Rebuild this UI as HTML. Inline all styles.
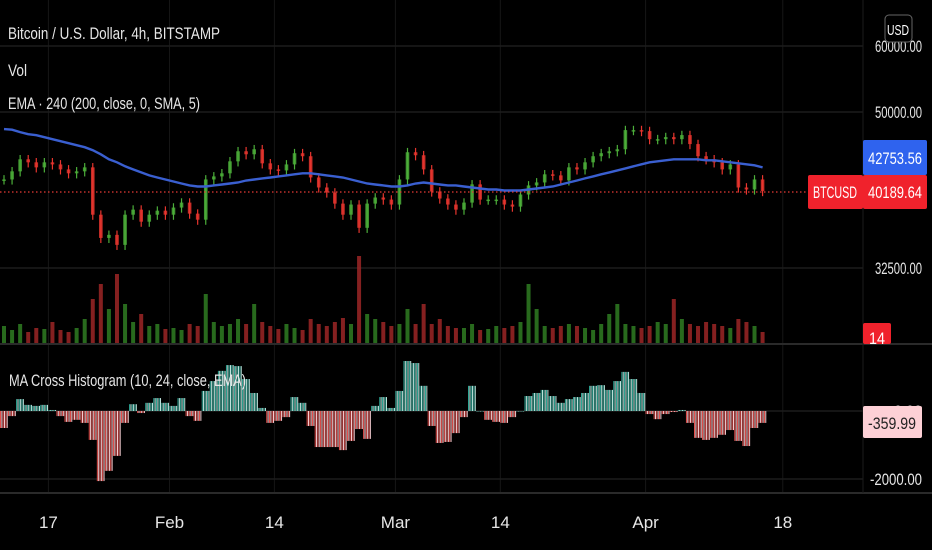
<!DOCTYPE html>
<html><head><meta charset="utf-8"><style>
html,body{margin:0;padding:0;background:#000;}
svg{display:block;font-family:"Liberation Sans",sans-serif;}
</style></head><body>
<svg id="chart" width="932" height="550" viewBox="0 0 932 550" xmlns="http://www.w3.org/2000/svg">
<rect x="0" y="0" width="932" height="550" fill="#000"/>
<g id="grid"></g>
<g id="volume"></g>
<g id="candles"></g>
<path id="ema" fill="none" stroke="#3a5fd0" stroke-width="2.4"/>
<line x1="0" y1="192" x2="808" y2="192" stroke="#e53935" stroke-width="1.3" stroke-dasharray="1.5,2.5"/>
<g id="hist"></g>
<line x1="0" y1="344" x2="932" y2="344" stroke="#2a2a2a" stroke-width="2"/>
<line x1="0" y1="493" x2="932" y2="493" stroke="#2a2a2a" stroke-width="2"/>
<line x1="863" y1="0" x2="863" y2="493" stroke="#1c1c1c" stroke-width="1"/>
<g id="axis" fill="#e6e6e6" font-size="17"></g>
<g fill="#e6e6e6" font-size="17">
<text x="8" y="39" textLength="212" lengthAdjust="spacingAndGlyphs">Bitcoin / U.S. Dollar, 4h, BITSTAMP</text>
<text x="8" y="76" textLength="19" lengthAdjust="spacingAndGlyphs">Vol</text>
<text x="8" y="109" textLength="192" lengthAdjust="spacingAndGlyphs">EMA · 240 (200, close, 0, SMA, 5)</text>
<text x="9" y="386" textLength="237" lengthAdjust="spacingAndGlyphs">MA Cross Histogram (10, 24, close, EMA)</text>
</g>
<g font-size="17">
<rect x="863" y="140" width="64" height="35" rx="2" fill="#2f63ee"/>
<text x="895" y="164" fill="#fff" text-anchor="middle" textLength="54" lengthAdjust="spacingAndGlyphs">42753.56</text>
<rect x="808" y="175" width="55" height="34" rx="2" fill="#f0222c"/>
<text x="835" y="198" fill="#fff" text-anchor="middle" textLength="44" lengthAdjust="spacingAndGlyphs">BTCUSD</text>
<rect x="863" y="175" width="64" height="34" rx="2" fill="#f0222c"/>
<text x="895" y="198" fill="#fff" text-anchor="middle" textLength="54" lengthAdjust="spacingAndGlyphs">40189.64</text>
<rect x="863" y="323" width="28" height="21" rx="2" fill="#f0222c"/>
<text x="877" y="344" fill="#fff" text-anchor="middle" textLength="16" lengthAdjust="spacingAndGlyphs">14</text>
<rect x="863" y="406" width="59" height="32" rx="2" fill="#fdd0d6"/>
<text x="892" y="429" fill="#222" text-anchor="middle" textLength="48" lengthAdjust="spacingAndGlyphs">-359.99</text>
<rect x="885" y="15" width="27" height="27" rx="4" fill="#000" stroke="#666" stroke-width="1"/>
<text x="898" y="35" fill="#fff" text-anchor="middle" font-size="15" textLength="22" lengthAdjust="spacingAndGlyphs">USD</text>
</g>
</svg>
<script>
const closes = [41500,42440,43875,43510,42910,43510,43260,42670,42210,42440,
42910,37650,35310,35610,34640,37650,38180,36930,37650,38070,
37650,38400,38930,37760,37135,41500,41850,42210,43630,44860,
44490,45110,43390,42670,42550,43260,44620,44250,41730,40590,
40030,38820,37650,38720,36310,38820,39480,39255,38720,41500,
44740,44370,42670,40140,39370,38720,38180,38930,40940,39255,
39255,39255,38720,38500,39810,40820,41160,42090,41970,41390,
42910,42670,43510,44250,44620,44860,45110,47560,47560,47430,
46385,46385,46650,46385,46910,45760,44250,43875,43510,42670,
43260,40590,40365,41500,40190];
const emaValues = [47690,47620,47293,47030,46900,46640,46385,46127,45871,45617,
45364,44987,44490,43875,43510,43030,42670,42315,41965,41730,
41500,41270,41040,40820,40705,40705,40820,40930,41040,41155,
41385,41500,41615,41730,41850,41965,42090,42210,42210,42090,
41965,41850,41730,41500,41270,41040,40930,40820,40705,40705,
40820,41040,41155,41040,40930,40820,40820,40705,40590,40480,
40365,40365,40250,40250,40250,40365,40480,40590,40705,40930,
41155,41385,41615,41850,42090,42315,42550,42790,43030,43270,
43510,43630,43750,43875,43875,43875,43875,43750,43750,43630,
43510,43390,43270,43150,42910];
const volumes = [18,14,20,12,16,15,22,14,12,16,25,45,60,35,70,40,22,30,18,20,
15,16,14,20,18,50,22,18,20,25,20,40,22,18,15,20,16,14,25,20,
18,22,26,20,88,30,25,22,18,20,35,20,40,20,25,18,16,16,20,14,
15,18,16,18,22,60,35,18,16,18,20,18,16,14,20,30,40,20,18,16,
18,22,20,45,25,20,18,22,20,18,16,25,22,18,12];
const histValues = [-500,-150,350,180,150,180,30,-150,-320,-260,
-350,-850,-2060,-1760,-1320,-350,200,-60,240,380,
240,150,380,-150,-290,590,880,1180,1350,1320,
940,530,90,-350,-290,-180,410,240,-440,-1060,
-1060,-1060,-1150,-880,-530,-820,150,410,90,590,
1470,1410,740,-440,-940,-910,-650,-180,740,0,
-260,-320,-350,-180,0,440,530,620,440,240,
350,410,530,740,760,620,880,1150,940,530,
-90,-240,-90,-30,30,-350,-790,-850,-790,-700,
-560,-880,-1030,-500,-350];
const priceTicks = [60000,50000,32500];
const histTicks = [0,-2000];
const timeLabels = ["17","Feb","14","Mar","14","Apr","18"];
const timeLabelDays = [6,21,34,49,62,80,97];

const NS="http://www.w3.org/2000/svg";
const dayW=8.07;
function xOf(d){return d*dayW+4;}
function yPrice(p){return 112+362*Math.log(50000/p);}
function yHist(v){return 411-v/29.4;}
function yVol(v){return 344-v;}
function mk(tag,attrs,parent){const e=document.createElementNS(NS,tag);for(const k in attrs)e.setAttribute(k,attrs[k]);parent.appendChild(e);return e;}

const grid=document.getElementById('grid');
timeLabelDays.forEach((d,i)=>{
  const l=mk('line',{x1:xOf(d)-4,x2:xOf(d)-4,y1:0,y2:493,stroke:'#161616','stroke-width':1},grid);
  
  
});
const axis=document.getElementById('axis');
priceTicks.forEach(p=>{
  const y=yPrice(p);
  const l=mk('line',{x1:0,x2:863,y1:y,y2:y,stroke:'#1c1c1c','stroke-width':1.5},grid);
  
  
  const t=mk('text',{x:875,y:y+6,textLength:47,lengthAdjust:'spacingAndGlyphs'},axis);
  t.textContent=p.toFixed(2);
  
  
});
histTicks.forEach(v=>{
  const y=yHist(v);
  const l=mk('line',{x1:0,x2:863,y1:y,y2:y,stroke:'#1c1c1c','stroke-width':1.5},grid);
  
  
  const t=mk('text',{x:922,y:y+6,'text-anchor':'end',textLength:v===0?28:52,lengthAdjust:'spacingAndGlyphs'},axis);
  t.textContent=v.toFixed(2);
  
  
});
timeLabels.forEach((s,i)=>{
  const t=mk('text',{x:xOf(timeLabelDays[i])-4,y:528,'text-anchor':'middle'},axis);
  t.textContent=s;
  
  
});

const cg=document.getElementById('candles'), vg=document.getElementById('volume');
closes.forEach((c,i)=>{
  const o=i>0?closes[i-1]:c;
  const up=c>=o;
  const col=up?'#4caf3a':'#e8352e';
  const x=xOf(i);
  const hi=Math.max(o,c)*1.012, lo=Math.min(o,c)*0.986;
  const w=mk('line',{x1:x,x2:x,y1:yPrice(hi),y2:yPrice(lo),stroke:col,'stroke-width':1.2},cg);
  
  
  const y1=yPrice(Math.max(o,c)),y2=yPrice(Math.min(o,c));
  const b=mk('rect',{x:x-1.8,y:y1,width:3.6,height:Math.max(1.5,y2-y1),fill:col,opacity:0.85},cg);
  
  
  const vb=mk('rect',{x:x-2,y:yVol(volumes[i]),width:4,height:volumes[i],fill:up?'#2f7d22':'#9c2626',opacity:0.85},vg);
  
  
});
let dpath='';
emaValues.forEach((v,i)=>{dpath+=(i?'L':'M')+xOf(i).toFixed(1)+','+yPrice(v).toFixed(1);});
document.getElementById('ema').setAttribute('d',dpath);

const hg=document.getElementById('hist');
histValues.forEach((v,i)=>{
  const x0=xOf(i)-4;
  for(let k=0;k<6;k++){
    const x=x0+k*1.345;
    const y=yHist(v), z=yHist(0);
    const pos=v>=0;
    const col=pos?(k%2?'#c8efe8':'#2fae9c'):(k%2?'#ffd6da':'#ef5350');
    const r=mk('rect',{x:x,y:Math.min(y,z),width:0.95,height:Math.max(0.5,Math.abs(z-y)),fill:col},hg);
    
    
  }
});
</script>
</body></html>
